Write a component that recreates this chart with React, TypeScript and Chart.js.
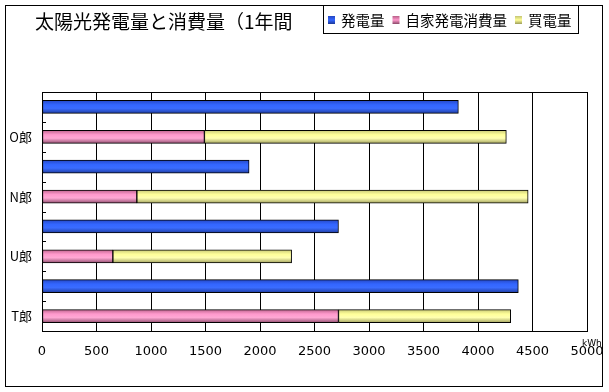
import React, { useEffect, useRef } from "react";
import { Chart, registerables } from "chart.js";

Chart.register(...registerables);

// ---- data ----
const households = ["O郎", "N郎", "U郎", "T郎"];
const generation = [3820, 1900, 2720, 4370]; // 発電量
const selfUse = [1490, 870, 650, 2720]; // 自家発電消費量
const purchased = [2770, 3590, 1640, 1580]; // 買電量
const seriesNames = ["発電量", "自家発電消費量", "買電量"];
const xTicks = [0, 500, 1000, 1500, 2000, 2500, 3000, 3500, 4000, 4500, 5000];
const titleText = "太陽光発電量と消費量（1年間";
const unitText = "kWh";

// each household gets two rows: generation row (blank label) then consumption row
const rowLabels: string[] = [];
const genRow: (number | null)[] = [];
const selfRow: (number | null)[] = [];
const buyRow: (number | null)[] = [];
households.forEach((h, i) => {
  rowLabels.push("", h);
  genRow.push(generation[i], null);
  selfRow.push(null, selfUse[i]);
  buyRow.push(null, purchased[i]);
});

const palettes = {
  blue: ["#2446c0", "#3366ff", "#3a6cff", "#1c3898"],
  pink: ["#b86088", "#ff99cc", "#ffa8d4", "#8a4868"],
  yellow: ["#c4c474", "#ffff99", "#ffffb0", "#9c9c58"],
};

const makeGrad = (p: string[]) => (ctx: any) => {
  const chart = ctx.chart;
  const ys = chart.scales && chart.scales.y;
  if (ctx.type !== "data" || !ys || ys.top === undefined) return p[1];
  const yc = ys.getPixelForValue(ctx.dataIndex);
  const h = 7;
  const g = chart.ctx.createLinearGradient(0, yc - h, 0, yc + h);
  g.addColorStop(0, p[0]);
  g.addColorStop(0.35, p[1]);
  g.addColorStop(0.6, p[2]);
  g.addColorStop(1, p[3]);
  return g;
};

const decorPlugin = {
  id: "decor",
  afterDatasetsDraw(chart: any) {
    const { ctx, chartArea } = chart;
    const ys = chart.scales.y;
    ctx.save();
    ctx.strokeStyle = "#000";
    ctx.lineWidth = 1;
    ctx.beginPath();
    ctx.moveTo(chartArea.left, Math.round(chartArea.top) + 0.5);
    ctx.lineTo(chartArea.right, Math.round(chartArea.top) + 0.5);
    ctx.stroke();
    const n = rowLabels.length;
    for (let i = 0; i < n - 1; i++) {
      const y = (ys.getPixelForValue(i) + ys.getPixelForValue(i + 1)) / 2;
      ctx.beginPath();
      ctx.moveTo(chartArea.left, Math.round(y) + 0.5);
      ctx.lineTo(chartArea.left + 4, Math.round(y) + 0.5);
      ctx.stroke();
    }
    ctx.restore();
  },
  afterDraw(chart: any) {
    const { ctx, chartArea, width, height } = chart;
    ctx.save();
    ctx.strokeStyle = "#000";
    ctx.lineWidth = 1;
    ctx.strokeRect(5.5, 5.5, width - 12, height - 11);
    // title
    ctx.fillStyle = "#000";
    ctx.font = "19px 'Noto Sans CJK JP'";
    ctx.textBaseline = "middle";
    ctx.textAlign = "left";
    ctx.fillText(titleText, 35, 22);
    // legend box
    const lx = 323, ly = 5, lw = 255, lh = 28;
    ctx.fillStyle = "#fff";
    ctx.fillRect(lx, ly, lw, lh);
    ctx.strokeRect(lx + 0.5, ly + 0.5, lw, lh);
    ctx.font = "14.5px 'Noto Sans CJK JP'";
    const cols = [palettes.blue, palettes.pink, palettes.yellow];
    let x = lx + 5;
    const cy = ly + 15;
    seriesNames.forEach((name, i) => {
      const g = ctx.createLinearGradient(0, cy - 4, 0, cy + 4);
      g.addColorStop(0, cols[i][0]);
      g.addColorStop(0.5, cols[i][1]);
      g.addColorStop(1, cols[i][3]);
      ctx.fillStyle = g;
      ctx.fillRect(x, cy - 4, 7, 8);
      x += 13;
      ctx.fillStyle = "#000";
      ctx.fillText(name, x, cy);
      x += ctx.measureText(name).width + 8;
    });
    // unit
    ctx.font = "9px 'DejaVu Sans'";
    ctx.fillText(unitText, chartArea.right - 5, chartArea.bottom + 13);
    ctx.restore();
  },
};

export default function App() {
  const ref = useRef<HTMLCanvasElement>(null);
  useEffect(() => {
    if (!ref.current) return;
    const ds = (label: string, data: (number | null)[], p: string[]) => ({
      label,
      data,
      backgroundColor: makeGrad(p),
      borderColor: "#000",
      borderWidth: 1,
      borderSkipped: false,
      barThickness: 13,
    });
    const chart = new Chart(ref.current, {
      type: "bar",
      data: {
        labels: rowLabels,
        datasets: [
          ds(seriesNames[0], genRow, palettes.blue),
          ds(seriesNames[1], selfRow, palettes.pink),
          ds(seriesNames[2], buyRow, palettes.yellow),
        ],
      },
      options: {
        indexAxis: "y",
        responsive: false,
        animation: false,
        layout: { padding: { left: 0, top: 92, right: 22, bottom: 0 } },
        plugins: {
          legend: { display: false },
          title: { display: false },
          tooltip: { enabled: false },
        },
        scales: {
          x: {
            stacked: true,
            min: 0,
            max: 5000,
            afterBuildTicks: (s: any) => {
              s.ticks = xTicks.map((v) => ({ value: v }));
            },
            afterFit: (s: any) => {
              s.height = 61;
              s.paddingLeft = 0;
              s.paddingRight = 0;
            },
            grid: { color: "#000", lineWidth: 1, drawTicks: false },
            border: { color: "#000", width: 1 },
            ticks: {
              color: "#000",
              font: { family: "'DejaVu Sans'", size: 13 },
              padding: 13,
              maxRotation: 0,
              autoSkip: false,
              callback: (v: any) => String(v),
            },
          },
          y: {
            stacked: true,
            afterFit: (s: any) => {
              s.width = 42;
            },
            grid: { display: false, drawTicks: false },
            border: { color: "#000", width: 1 },
            ticks: {
              color: "#000",
              font: { family: "'Noto Sans CJK JP'", size: 13 },
              padding: 10,
              autoSkip: false,
            },
          },
        },
      },
      plugins: [decorPlugin],
    } as any);
    return () => chart.destroy();
  }, []);
  return (
    <div style={{ position: "fixed", left: 0, top: 0, width: 609, height: 392, background: "#fff" }}>
      <canvas ref={ref} width={609} height={392} />
    </div>
  );
}
